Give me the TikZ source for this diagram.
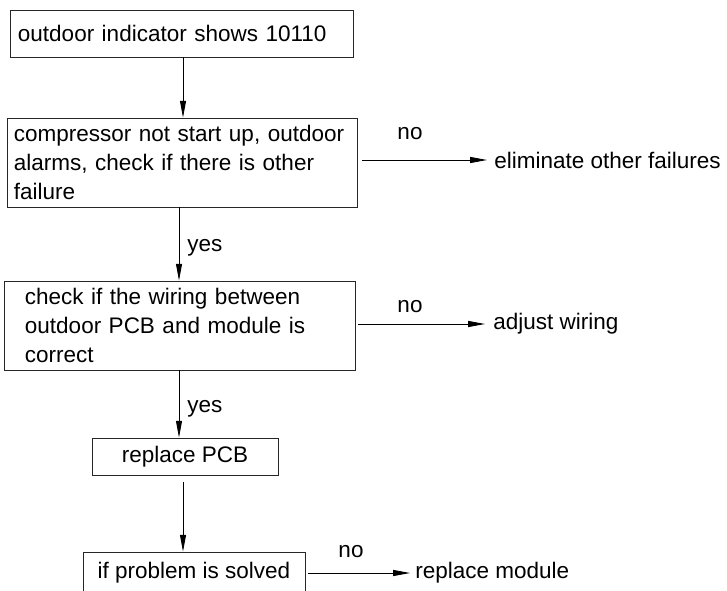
\documentclass[tikz,border=0pt]{standalone}
\usepackage{fontspec}
\setmainfont{Liberation Sans}
\usepackage{tikz}
\usetikzlibrary{arrows.meta}

\begin{document}
\begin{tikzpicture}[
    x=0.025cm, y=-0.025cm,
    box/.style={draw=black!85, line width=0.6pt, inner sep=0pt, font=\fontsize{16}{20.3}\selectfont},
    txt/.style={inner sep=0pt, font=\fontsize{16}{20.3}\selectfont},
    flow/.style={line width=0.6pt, -{Triangle[length=0.42cm, width=0.15cm]}},
]
    \path[use as bounding box, clip] (0,0) rectangle (727,590);

    % --- Boxes of the main path ---
    \node[box, minimum width=8.575cm, minimum height=1.175cm, text width=8.175cm, align=left] (show)
        at (181.5,33.5) {outdoor indicator shows 10110};
    \node[box, minimum width=8.75cm, minimum height=2.225cm, text width=8.4cm, align=left] (comp)
        at (182,162.5) {compressor not start up, outdoor\\alarms, check if there is other\\failure};
    \node[box, minimum width=8.775cm, minimum height=2.225cm, text width=7.725cm, align=left] (wire)
        at (179.5,325.5) {check if the wiring between\\outdoor PCB and module is\\correct};
    \node[box, minimum width=4.65cm, minimum height=0.925cm, align=center] (pcb)
        at (185,456.5) {replace PCB};
    \node[box, minimum width=5.55cm, minimum height=1.05cm, align=center] (solved)
        at (194,573) {if problem is solved};

    % --- Outcomes on the right ---
    \node[txt, anchor=west] (elim)   at (494,160) {eliminate other failures};
    \node[txt, anchor=west] (adjust) at (493,324) {adjust wiring};
    \node[txt, anchor=west] (module) at (415,573) {replace module};

    % --- Labels ---
    \node[txt] (no1) at (410,134) {no};
    \node[txt] (no2) at (410,307) {no};
    \node[txt] (no3) at (351,552) {no};
    \node[txt, anchor=west] (yes1) at (187,248) {yes};
    \node[txt, anchor=west] (yes2) at (187,409) {yes};

    % --- Downward arrows ---
    \draw[flow] (show.south -| 183,0) -- (comp.north -| 183,0);
    \draw[flow] (comp.south -| 179,0) -- (wire.north -| 179,0);
    \draw[flow] (wire.south -| 179,0) -- (pcb.north -| 179,0);
    \draw[flow, shorten <=0.175cm] (pcb.south -| 183,0) -- (solved.north -| 183,0);

    % --- Arrows to the right ---
    \draw[flow, shorten <=0.125cm, shorten >=0.175cm] (comp.east |- elim.west) -- (elim.west);
    \draw[flow, shorten <=0.075cm, shorten >=0.2cm] (wire.east |- adjust.west) -- (adjust.west);
    \draw[flow, shorten <=0.075cm, shorten >=0.125cm] (solved.east |- module.west) -- (module.west);

\end{tikzpicture}
\end{document}
